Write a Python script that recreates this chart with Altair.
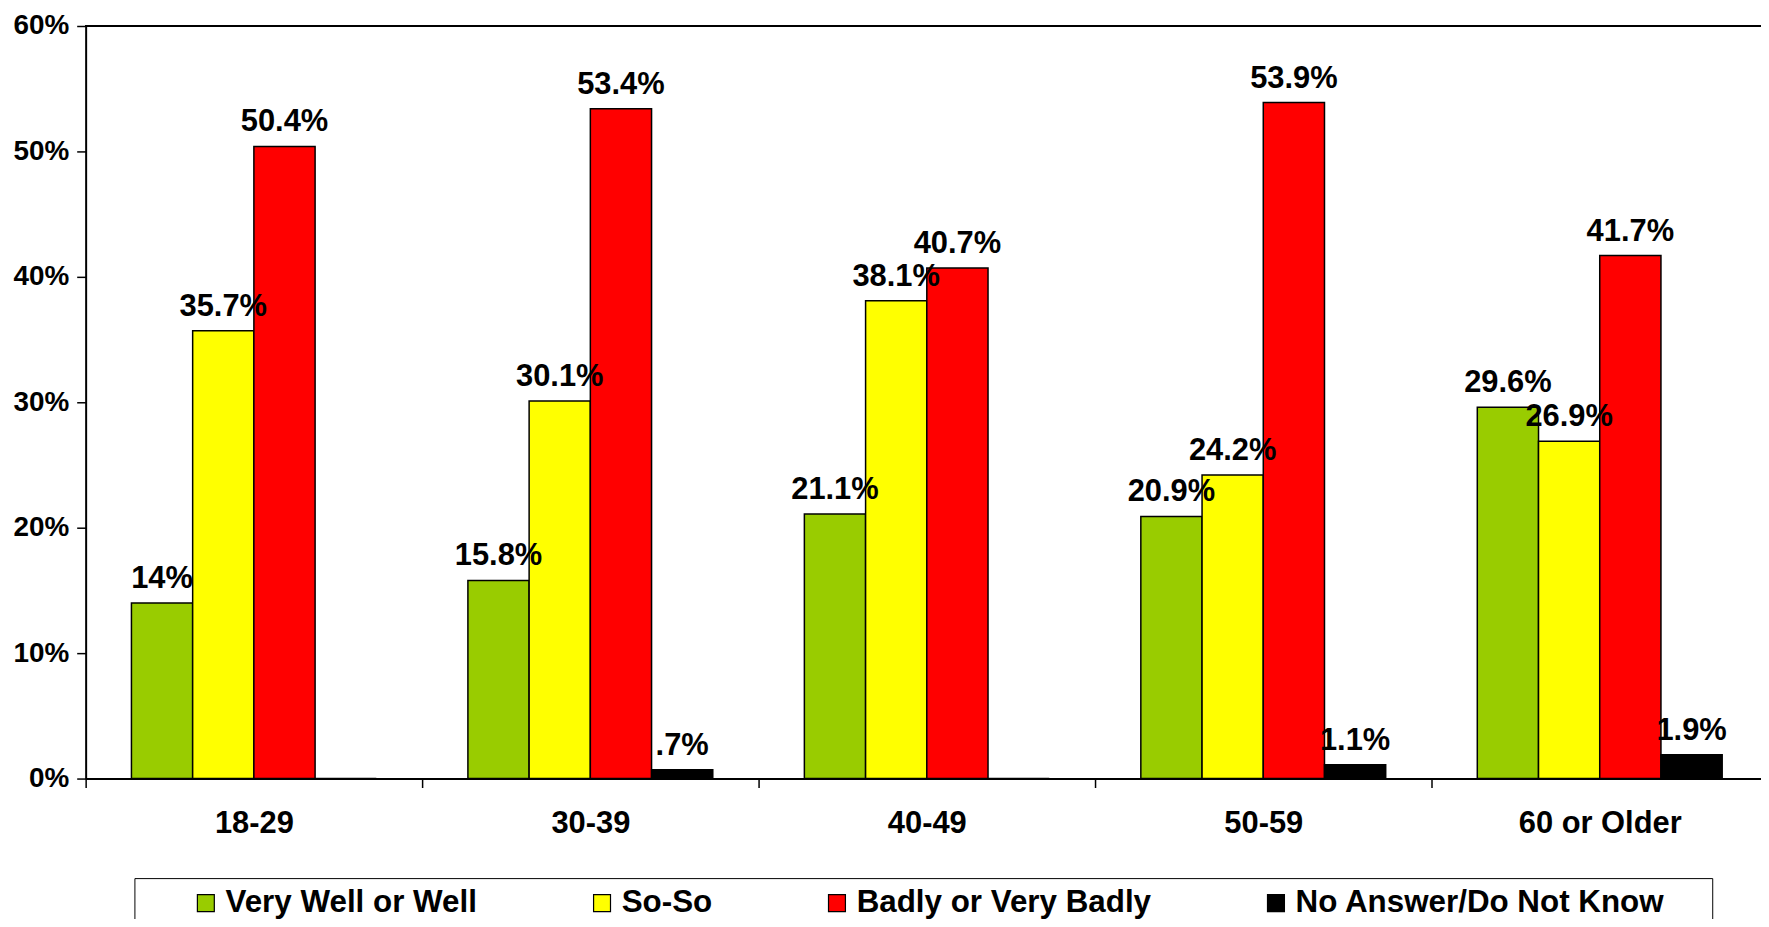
import altair as alt
import pandas as pd

groups = ["18-29", "30-39", "40-49", "50-59", "60 or Older"]
series = ["Very Well or Well", "So-So", "Badly or Very Badly", "No Answer/Do Not Know"]
colors = ["#99CC00", "#FFFF00", "#FF0000", "#000000"]
very_well = [14.0, 15.8, 21.1, 20.9, 29.6]
so_so = [35.7, 30.1, 38.1, 24.2, 26.9]
badly = [50.4, 53.4, 40.7, 53.9, 41.7]
no_answer = [0.0, 0.7, 0.0, 1.1, 1.9]
y_ticks = [0, 10, 20, 30, 40, 50, 60]


def fmt(v):
    s = f"{v:g}%"
    return s[1:] if s.startswith("0.") else s


rows = []
for name, vals in zip(series, [very_well, so_so, badly, no_answer]):
    for g, v in zip(groups, vals):
        rows.append({"group": g, "series": name, "value": v,
                     "label": fmt(v) if v > 0 else ""})
df = pd.DataFrame(rows)

x_enc = alt.X(
    "group:N", sort=groups,
    scale=alt.Scale(paddingInner=0, paddingOuter=0),
    axis=alt.Axis(title=None, labelAngle=0, tickBand="extent", tickSize=9,
                  tickWidth=1.5, tickColor="black", domainColor="black",
                  domainWidth=2, labelFontSize=31, labelFontWeight="bold",
                  labelColor="black", labelPadding=21),
)
xo_enc = alt.XOffset("series:N", sort=series,
                     scale=alt.Scale(paddingInner=0, paddingOuter=0.748))
y_scale = alt.Scale(domain=[0, 60], nice=False)

nbsp = "\u00a0"
legend = alt.Legend(
    orient="none", legendX=49, legendY=856, direction="horizontal", columns=4,
    columnPadding=62, title=nbsp, titleOrient="right", titlePadding=39,
    titleFontSize=10, symbolType="square", symbolSize=289, symbolOffset=47,
    symbolStrokeColor="black", symbolStrokeWidth=1.2, labelFontSize=31.5,
    labelFontWeight="bold", labelColor="black", labelOffset=4, labelLimit=600,
    strokeColor="black", fillColor="white", padding=9,
)

bars = alt.Chart(df).mark_bar(stroke="black", strokeWidth=1.5).encode(
    x=x_enc,
    xOffset=xo_enc,
    y=alt.Y("value:Q", scale=y_scale,
            axis=alt.Axis(title=None, values=y_ticks, labelExpr="datum.value + '%'",
                          grid=False, tickSize=9, tickWidth=1.5, tickColor="black",
                          domainColor="black", domainWidth=2, labelFontSize=28,
                          labelFontWeight="bold", labelColor="black", labelPadding=8)),
    color=alt.Color("series:N", sort=series,
                    scale=alt.Scale(domain=series, range=colors), legend=legend),
)

labels = alt.Chart(df).transform_filter("datum.value > 0").mark_text(
    baseline="bottom", dy=-8, fontSize=31, fontWeight="bold", color="black"
).encode(
    x=alt.X("group:N", sort=groups),
    xOffset=alt.XOffset("series:N", sort=series),
    y=alt.Y("value:Q"),
    text="label:N",
)

top_line = alt.Chart(df).mark_rule(color="black", strokeWidth=2).encode(
    y=alt.datum(60)
)

chart = alt.layer(bars, labels, top_line).properties(
    width=1690, height=756,
    autosize=alt.AutoSizeParams(type="none"),
    padding={"left": 78, "top": 16, "right": -7, "bottom": 139},
).configure(font="Liberation Sans").configure_view(stroke=None)

chart.save("out.html", embed_options={"renderer": "svg", "actions": False})
